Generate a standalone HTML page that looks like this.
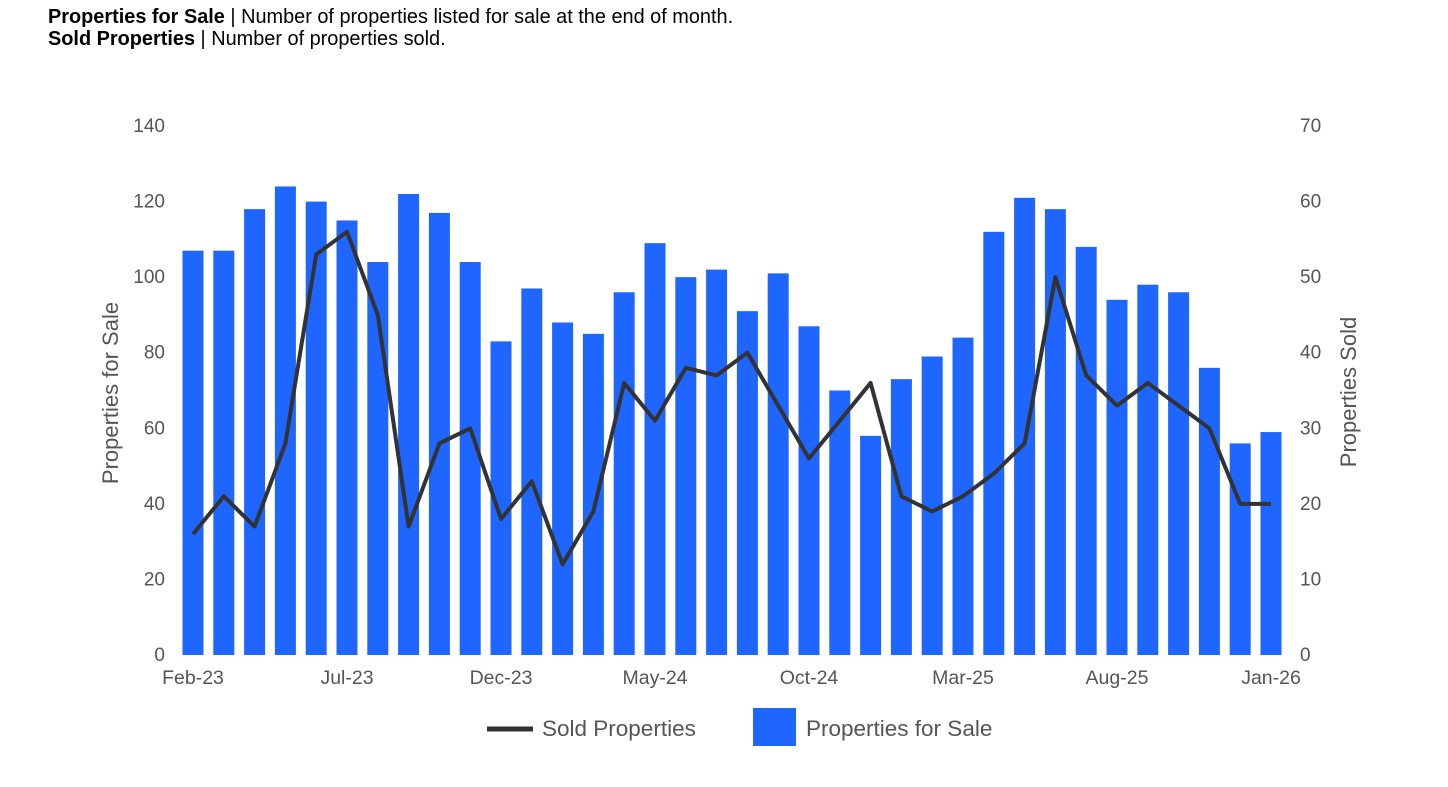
<!DOCTYPE html>
<html><head><meta charset="utf-8"><style>
body{margin:0;background:#fff;width:1448px;height:787px;overflow:hidden;font-family:"Liberation Sans",Arial,sans-serif}
.hdr{position:absolute;left:48px;font-size:19.9px;color:#000;line-height:22px}
</style></head><body>
<div class="hdr" style="top:6px"><b>Properties for Sale</b> | Number of properties listed for sale at the end of month.</div>
<div class="hdr" style="top:28px"><b>Sold Properties</b> | Number of properties sold.</div>
<svg id="chart" width="1448" height="787" style="position:absolute;left:0;top:0"></svg>
<script>
const months=["Feb-23","Mar-23","Apr-23","May-23","Jun-23","Jul-23","Aug-23","Sep-23","Oct-23","Nov-23","Dec-23","Jan-24","Feb-24","Mar-24","Apr-24","May-24","Jun-24","Jul-24","Aug-24","Sep-24","Oct-24","Nov-24","Dec-24","Jan-25","Feb-25","Mar-25","Apr-25","May-25","Jun-25","Jul-25","Aug-25","Sep-25","Oct-25","Nov-25","Dec-25","Jan-26"];
const forSale=[107,107,118,124,120,115,104,122,117,104,83,97,88,85,96,109,100,102,91,101,87,70,58,73,79,84,112,121,118,108,94,98,96,76,56,59];
const sold=[16,21,17,28,53,56,45,17,28,30,18,23,12,19,36,31,38,37,40,33,26,31,36,21,19,21,24,28,50,37,33,36,33,30,20,20];
const leftTicks=[0,20,40,60,80,100,120,140];
const rightTicks=[0,10,20,30,40,50,60,70];
const xLabelIdx=[0,5,10,15,20,25,30,35];
const NS="http://www.w3.org/2000/svg";
const svg=document.getElementById('chart');
const x0=193,x1=1271,y0=655,yTop=126;
const xs=i=>x0+(x1-x0)*i/(months.length-1);
const yl=v=>y0-(y0-yTop)*v/140;
const yr=v=>y0-(y0-yTop)*v/70;
function mk(t,a,txt){const e=document.createElementNS(NS,t);for(const k in a)e.setAttribute(k,a[k]);if(txt!=null)e.textContent=txt;svg.appendChild(e);return e;}
leftTicks.forEach(v=>{const e=mk('text',{x:165,y:yl(v)+6,'text-anchor':'end','font-size':19,fill:'#555'},v);

});
rightTicks.forEach(v=>{const e=mk('text',{x:1300,y:yr(v)+6,'font-size':19,fill:'#555'},v);

});
forSale.forEach((v,i)=>{const e=mk('rect',{x:xs(i)-10.5,y:yl(v),width:21,height:y0-yl(v),fill:'#1f66ff'});

});
const pl=mk('polyline',{points:sold.map((v,i)=>xs(i)+','+yr(v)).join(' '),fill:'none',stroke:'#333',"stroke-width":4,"stroke-linejoin":'round'});


xLabelIdx.forEach(i=>{const e=mk('text',{x:xs(i),y:684,'text-anchor':'middle','font-size':19.5,fill:'#555'},months[i]);

});
let t=mk('text',{x:118,y:393,'text-anchor':'middle','font-size':22,fill:'#555',transform:'rotate(-90 118 393)'},'Properties for Sale');


t=mk('text',{x:1356,y:392,'text-anchor':'middle','font-size':22,fill:'#555',transform:'rotate(-90 1356 392)'},'Properties Sold');


t=mk('line',{x1:487,y1:729,x2:533,y2:729,stroke:'#333','stroke-width':5});


t=mk('text',{x:542,y:736,'font-size':22.5,fill:'#555'},'Sold Properties');


t=mk('rect',{x:753,y:708,width:43,height:38,fill:'#1f66ff'});


t=mk('text',{x:806,y:736,'font-size':22.5,fill:'#555'},'Properties for Sale');


</script>
</body></html>
